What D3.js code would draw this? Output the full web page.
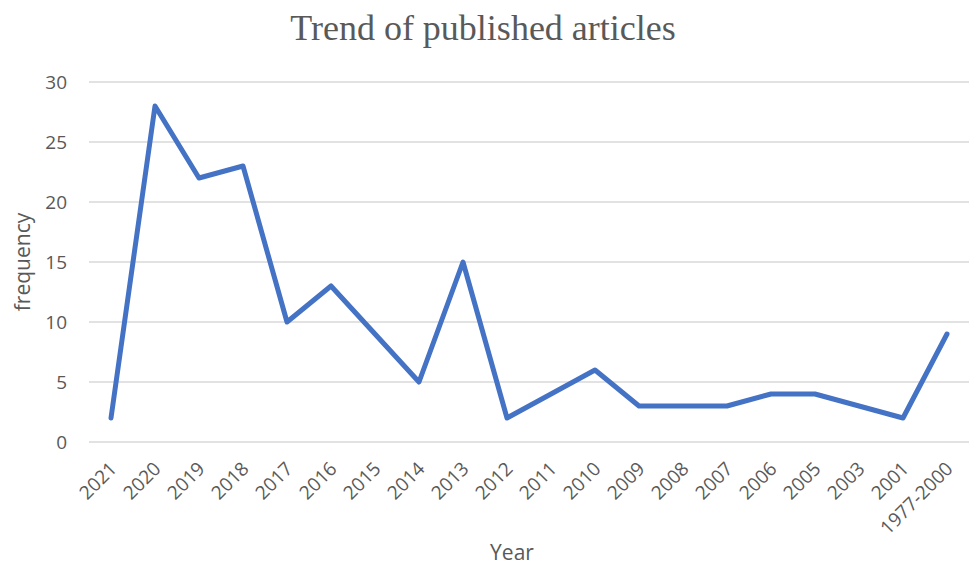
<!DOCTYPE html>
<html lang="en">
<head>
    <meta charset="UTF-8">
    <title>Trend of published articles</title>
    <script src="https://cdn.jsdelivr.net/npm/d3@7"></script>
    <style>
        body { margin: 0; background: #fff; }
        svg text { fill: #595959; }
    </style>
</head>
<body>
    <div id="chart"></div>
    <script>
        const years = ["2021", "2020", "2019", "2018", "2017", "2016", "2015", "2014", "2013", "2012",
            "2011", "2010", "2009", "2008", "2007", "2006", "2005", "2003", "2001", "1977-2000"];
        const counts = [2, 28, 22, 23, 10, 13, 9, 5, 15, 2, 4, 6, 3, 3, 3, 4, 4, 3, 2, 9];
        const yTicks = [0, 5, 10, 15, 20, 25, 30];

        const width = 970, height = 567;
        const margin = { top: 82, right: 1, bottom: 125, left: 89 };

        const svg = d3.select("#chart").append("svg")
            .attr("width", width)
            .attr("height", height);

        const x = d3.scaleBand().domain(years).range([margin.left, width - margin.right]).padding(0);
        const y = d3.scaleLinear().domain([0, 30]).range([height - margin.bottom, margin.top]);

        // gridlines
        svg.append("g")
            .selectAll("line")
            .data(yTicks)
            .join("line")
            .attr("x1", margin.left)
            .attr("x2", width - margin.right)
            .attr("y1", d => y(d))
            .attr("y2", d => y(d))
            .attr("stroke", "#d9d9d9")
            .attr("stroke-width", 1.3);

        // y tick labels
        svg.append("g")
            .selectAll("text")
            .data(yTicks)
            .join("text")
            .attr("x", 67)
            .attr("y", d => y(d))
            .attr("dy", "0.35em")
            .attr("text-anchor", "end")
            .style("font-family", "'Open Sans', sans-serif")
            .style("font-size", "19px")
            .text(d => d);

        // x tick labels
        svg.append("g")
            .selectAll("text")
            .data(years)
            .join("text")
            .attr("transform", d => `translate(${x(d) + x.bandwidth() / 2 + 7},${y(0) + 28}) rotate(-45)`)
            .attr("text-anchor", "end")
            .style("font-family", "'Open Sans', sans-serif")
            .style("font-size", "19px")
            .text(d => d);

        // line
        const line = d3.line()
            .x((d, i) => x(years[i]) + x.bandwidth() / 2)
            .y(d => y(d));

        svg.append("path")
            .datum(counts)
            .attr("d", line)
            .attr("fill", "none")
            .attr("stroke", "#4472c4")
            .attr("stroke-width", 5)
            .attr("stroke-linejoin", "round")
            .attr("stroke-linecap", "round");

        // title
        svg.append("text")
            .attr("x", 483)
            .attr("y", 40)
            .attr("text-anchor", "middle")
            .style("font-family", "'Liberation Serif', 'Times New Roman', serif")
            .style("font-size", "36px")
            .text("Trend of published articles");

        // axis titles
        svg.append("text")
            .attr("x", 512)
            .attr("y", 560)
            .attr("text-anchor", "middle")
            .style("font-family", "'Open Sans', sans-serif")
            .style("font-size", "21px")
            .text("Year");

        svg.append("text")
            .attr("transform", "translate(30,262) rotate(-90)")
            .attr("text-anchor", "middle")
            .style("font-family", "'Open Sans', sans-serif")
            .style("font-size", "21px")
            .text("frequency");
    </script>
</body>
</html>
